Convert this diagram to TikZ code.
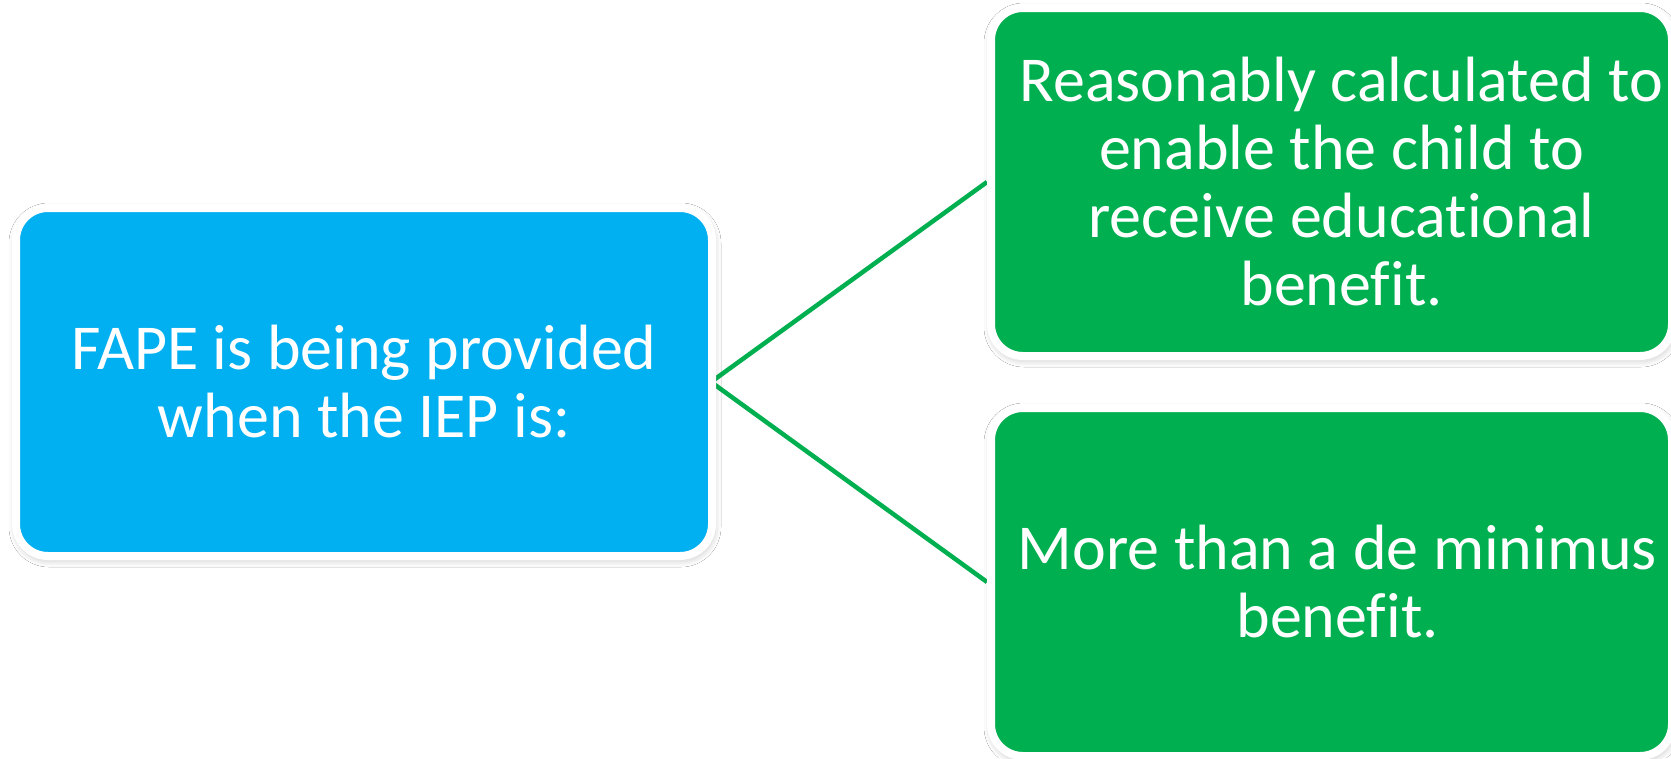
\documentclass[tikz,border=0pt]{standalone}
\usepackage{fontspec}
\setmainfont{Carlito}[Ligatures=NoCommon]
\usetikzlibrary{shadows.blur,backgrounds}
\definecolor{fapeblue}{HTML}{00B0F0}
\definecolor{fapegreen}{HTML}{00B050}
\tikzset{
  card/.style={rectangle, rounded corners=32pt, draw=white, line width=8pt,
    inner sep=0pt,
    blur shadow={shadow xshift=1pt, shadow yshift=-3pt,
      shadow blur radius=8pt, shadow opacity=30}},
  fapecard/.style={card, fill=fapeblue, minimum width=696pt, minimum height=348pt},
  testcard/.style={card, fill=fapegreen, minimum width=681pt, minimum height=348pt},
  cardtext/.style={text=white, align=center, inner sep=0pt,
    font=\fontsize{64}{68}\selectfont},
  link/.style={draw=fapegreen, line width=4.5pt}
}
\begin{document}
\begin{tikzpicture}
  \useasboundingbox (0pt,0pt) rectangle (1671pt,-758pt);
  % boxes
  \node[fapecard] (fape) at (364pt,-382pt) {};
  \node[testcard] (benefit) at (1331.5pt,-182pt) {};
  \node[testcard] (minimus) at (1331.5pt,-582pt) {};
  % texts
  \node[cardtext] (fapetext) at (fape.center)
    {FAPE is being provided\\when the IEP is:};
  \node[cardtext] (benefittext) at ([xshift=10pt]benefit.center)
    {Reasonably calculated to\\enable the child to\\receive educational\\benefit.};
  \node[cardtext] (minimustext) at ([xshift=6pt]minimus.center)
    {More than a de minimus\\benefit.};
  % connectors behind the boxes
  \begin{scope}[on background layer]
    \fill[white] (0pt,0pt) rectangle (1671pt,-758pt);
    \coordinate (hub) at ([xshift=-5pt]fape.east);
    \draw[link] (hub) -- (benefit.west);
    \draw[link] (hub) -- (minimus.west);
  \end{scope}
\end{tikzpicture}
\end{document}
